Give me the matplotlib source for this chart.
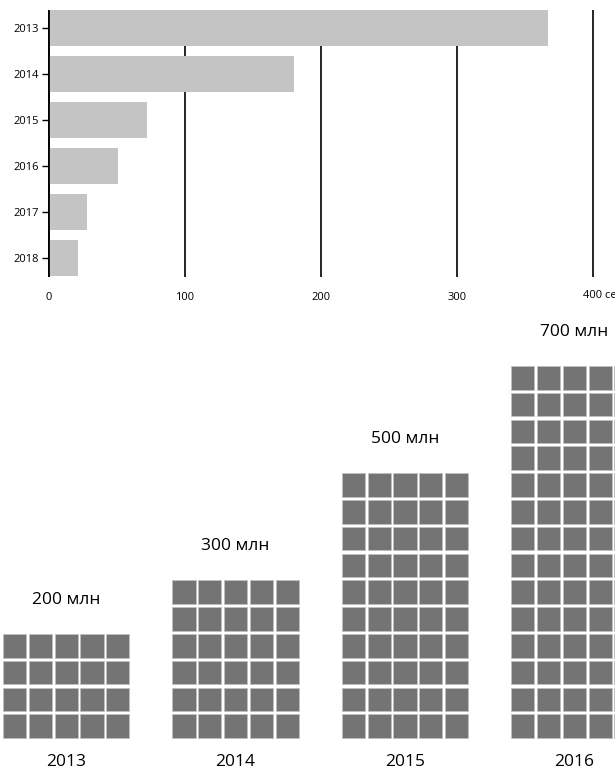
import matplotlib
matplotlib.use("Agg")
import matplotlib.pyplot as plt
import matplotlib.patches as patches

plt.rcParams['font.family'] = ['Open Sans', 'DejaVu Sans']

# load time per year (seconds)
years = ["2013", "2014", "2015", "2016", "2017", "2018"]
load_time = [367, 180, 72, 51, 28, 21]
time_ticks = [0, 100, 200, 300, 400]

# audience per year (millions), one square = 10 mln
aud_years = ["2013", "2014", "2015", "2016"]
audience = [200, 300, 500, 700]
per_square = 10
per_row = 5

W, H = 615, 769
fig = plt.figure(figsize=(W / 100, H / 100), dpi=100)


def px(x0, y0, x1, y1):
    # pixel box (top-left origin) -> figure fraction rect
    return [x0 / W, 1 - y1 / H, (x1 - x0) / W, (y1 - y0) / H]


# --- bar chart -----------------------------------------------------------
ax = fig.add_axes(px(49, 10, 593, 277))
ypos = list(range(len(years)))
ax.barh(ypos, load_time, height=0.78, color="#c4c4c4", zorder=2)
ax.set_xlim(0, 400)
ax.set_ylim(5.41, -0.39)
ax.set_yticks(ypos)
ax.set_yticklabels(years, fontsize=8)
ax.set_xticks(time_ticks)
ax.set_xticklabels([str(t) for t in time_ticks[:-1]] + [""], fontsize=8)
ax.annotate(f"{time_ticks[-1]} сек", xy=(time_ticks[-1], 0),
            xycoords=("data", "axes fraction"), xytext=(-10, -13),
            textcoords="offset pixels", ha="left", va="top", fontsize=8)
ax.grid(axis="x", color="black", linewidth=1.2, zorder=1,
        solid_capstyle="butt")
for gl in ax.get_xgridlines():
    gl.set_clip_on(False)
ax.set_axisbelow(True)
ax.tick_params(axis="x", length=0, pad=11)
ax.tick_params(axis="y", length=5, width=1, pad=2)
for side in ["top", "right", "bottom"]:
    ax.spines[side].set_visible(False)
ax.spines["left"].set_linewidth(1.3)
ax.spines["left"].set_capstyle("butt")

# chart heading, mostly above the top edge
fig.text(45 / W, 1 + 2.5 / H, "Время загрузки страницы, сек",
         fontsize=8, va="baseline", ha="left")

# --- waffle stacks -------------------------------------------------------
cw, rh = 25.8, 26.8      # cell pitch in pixels
base_px = 738            # bottom of the stacks
top_px = 300
ax2 = fig.add_axes(px(0, top_px, W, H))
ax2.set_xlim(0, W / cw)
ax2.set_ylim(-(H - base_px) / rh, (base_px - top_px) / rh)
ax2.axis("off")

group_start = 3 / cw
group_step = 169.4 / cw
sq_w, sq_h = 0.9, 0.88

for i, (yr, val) in enumerate(zip(aud_years, audience)):
    n = val // per_square
    rows = n // per_row
    x0 = group_start + i * group_step
    for k in range(n):
        r, c = divmod(k, per_row)
        ax2.add_patch(patches.Rectangle((x0 + c, r), sq_w, sq_h,
                                        facecolor="#747474",
                                        edgecolor="#c0c0c0", linewidth=0.5))
    cx = x0 + (per_row - 1 + sq_w) / 2
    ax2.text(cx, rows + 31 / rh, f"{val} млн", ha="center", va="center",
             fontsize=12.5)
    ax2.text(cx, -24 / rh, yr, ha="center", va="center", fontsize=12.5)

fig.savefig("out.png", dpi=100)
